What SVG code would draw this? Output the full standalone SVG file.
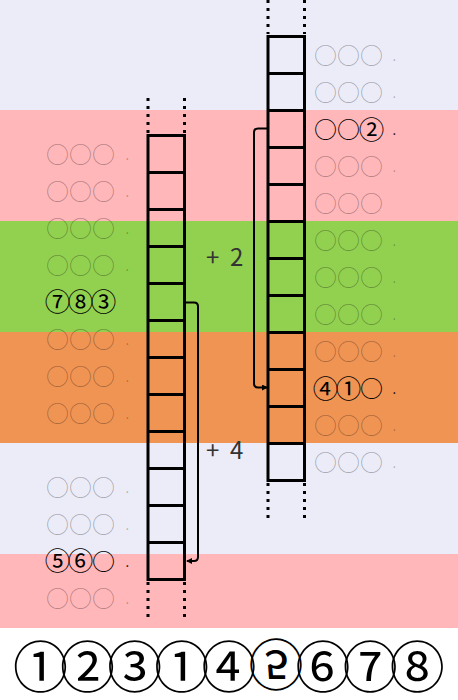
<svg xmlns="http://www.w3.org/2000/svg" width="458" height="700" viewBox="0 0 458 700">
<style>
.lbl{font-family:"Noto Sans CJK JP","Noto Sans",sans-serif;font-size:23px}
.cd{font-size:25.5px}
.pd{font-family:"Noto Sans CJK JP","Noto Sans",sans-serif;font-size:13px}
.g{fill:#000;fill-opacity:0.3}
.k{fill:#000}
.m{text-anchor:middle}
.op{font-family:"Noto Sans CJK JP","Noto Sans",sans-serif;font-size:24px;fill:#333}
.big{font-family:"Noto Sans CJK JP","Noto Sans",sans-serif;font-size:55px;fill:#000;text-anchor:middle}
.cell{fill:none;stroke:#000;stroke-width:3}
.dot{stroke:#000;stroke-width:3;stroke-dasharray:3 5}
.arr{fill:none;stroke:#000;stroke-width:2}
</style>
<defs>
<marker id="ah" markerWidth="6" markerHeight="6" refX="5" refY="3" orient="auto" markerUnits="userSpaceOnUse">
<path d="M0,0 L6,3 L0,6 Z" fill="#000"/>
</marker>
</defs>
<g id="bands">
<rect x="0" y="0" width="458" height="110" fill="#EBECF8"/>
<rect x="0" y="110" width="458" height="111" fill="#FFB7BA"/>
<rect x="0" y="221" width="458" height="111" fill="#92D050"/>
<rect x="0" y="332" width="458" height="111" fill="#F09454"/>
<rect x="0" y="443" width="458" height="111" fill="#EBECF8"/>
<rect x="0" y="554" width="458" height="74" fill="#FFB7BA"/>
<rect x="0" y="628" width="458" height="72" fill="#FFFFFF"/>
</g>
<g id="left-column">
<line class="dot" x1="148" y1="98" x2="148" y2="133"/>
<line class="dot" x1="184.5" y1="98" x2="184.5" y2="133"/>
<line class="dot" x1="148" y1="582" x2="148" y2="617"/>
<line class="dot" x1="184.5" y1="582" x2="184.5" y2="617"/>
<rect class="cell" x="148" y="135.5" width="36.5" height="444"/>
<path class="cell" d="M148,172.5H184.5M148,209.5H184.5M148,246.5H184.5M148,283.5H184.5M148,320.5H184.5M148,357.5H184.5M148,394.5H184.5M148,431.5H184.5M148,468.5H184.5M148,505.5H184.5M148,542.5H184.5"/>
</g>
<g id="right-column">
<line class="dot" x1="268" y1="0" x2="268" y2="34"/>
<line class="dot" x1="304.5" y1="0" x2="304.5" y2="34"/>
<line class="dot" x1="268" y1="483" x2="268" y2="518"/>
<line class="dot" x1="304.5" y1="483" x2="304.5" y2="518"/>
<rect class="cell" x="268" y="36.5" width="36.5" height="444"/>
<path class="cell" d="M268,73.5H304.5M268,110.5H304.5M268,147.5H304.5M268,184.5H304.5M268,221.5H304.5M268,258.5H304.5M268,295.5H304.5M268,332.5H304.5M268,369.5H304.5M268,406.5H304.5M268,443.5H304.5"/>
</g>
<g id="left-labels">
<text class="lbl g" x="46" y="162.5">○○○</text><text class="pd g" x="125.5" y="159.5">.</text>
<text class="lbl g" x="46" y="199.5">○○○</text><text class="pd g" x="125.5" y="196.5">.</text>
<text class="lbl g" x="46" y="236.5">○○○</text><text class="pd g" x="125.5" y="233.5">.</text>
<text class="lbl g" x="46" y="273.5">○○○</text><text class="pd g" x="125.5" y="270.5">.</text>
<text class="lbl cd k m" x="57.5 80.5 103.5" y="311.2">⑦⑧③</text>
<text class="lbl g" x="46" y="347.5">○○○</text><text class="pd g" x="125.5" y="344.5">.</text>
<text class="lbl g" x="46" y="384.5">○○○</text><text class="pd g" x="125.5" y="381.5">.</text>
<text class="lbl g" x="46" y="421.5">○○○</text><text class="pd g" x="125.5" y="418.5">.</text>
<text class="lbl g" x="46" y="495.5">○○○</text><text class="pd g" x="125.5" y="492.5">.</text>
<text class="lbl g" x="46" y="532.5">○○○</text><text class="pd g" x="125.5" y="529.5">.</text>
<text class="lbl k m" y="569.5"><tspan class="cd" x="57.5" y="570.2">⑤</tspan><tspan class="cd" x="80.5" y="570.2">⑥</tspan><tspan x="103.5" y="569.5">○</tspan></text><text class="pd k" x="125.5" y="566.5">.</text>
<text class="lbl g" x="46" y="606.5">○○○</text><text class="pd g" x="125.5" y="603.5">.</text>
</g>
<g id="right-labels">
<text class="lbl g" x="314" y="64">○○○</text><text class="pd g" x="392.5" y="61">.</text>
<text class="lbl g" x="314" y="101">○○○</text><text class="pd g" x="392.5" y="98">.</text>
<text class="lbl k m" y="138"><tspan x="325.5">○</tspan><tspan x="348.5">○</tspan><tspan class="cd" x="371.5" y="138.7">②</tspan></text><text class="pd k" x="392.5" y="135">.</text>
<text class="lbl g" x="314" y="175">○○○</text><text class="pd g" x="392.5" y="172">.</text>
<text class="lbl g" x="314" y="212">○○○</text>
<text class="lbl g" x="314" y="249">○○○</text><text class="pd g" x="392.5" y="246">.</text>
<text class="lbl g" x="314" y="286">○○○</text><text class="pd g" x="392.5" y="283">.</text>
<text class="lbl g" x="314" y="323">○○○</text><text class="pd g" x="392.5" y="320">.</text>
<text class="lbl g" x="314" y="360">○○○</text><text class="pd g" x="392.5" y="357">.</text>
<text class="lbl k m" y="397"><tspan class="cd" x="325.5" y="397.7">④</tspan><tspan class="cd" x="348.5" y="397.7">①</tspan><tspan x="371.5" y="397">○</tspan></text><text class="pd k" x="392.5" y="394">.</text>
<text class="lbl g" x="314" y="434">○○○</text><text class="pd g" x="392.5" y="431">.</text>
<text class="lbl g" x="314" y="471">○○○</text><text class="pd g" x="392.5" y="468">.</text>
</g>
<g id="connectors">
<path class="arr" marker-end="url(#ah)" d="M185,302.5H194Q198,302.5 198,306.5V557Q198,561 194,561H187"/>
<path class="arr" marker-end="url(#ah)" d="M268,128.5H258Q254,128.5 254,132.5V383.5Q254,387.5 258,387.5H267"/>
<text class="op" x="206 230" y="266">+2</text>
<text class="op" x="206 230" y="459">+4</text>
</g>
<g id="bottom-row">
<text class="big" x="40.5" y="686.5">①</text>
<text class="big" x="87.6" y="686.5">②</text>
<text class="big" x="134.7" y="686.5">③</text>
<text class="big" x="181.8" y="686.5">①</text>
<text class="big" x="228.9" y="686.5">④</text>
<text class="big" x="276" y="686.5" transform="translate(0,1330) scale(1,-1)">⑤</text>
<text class="big" x="323.1" y="686.5">⑥</text>
<text class="big" x="370.2" y="686.5">⑦</text>
<text class="big" x="417.3" y="686.5">⑧</text>
</g>
</svg>
